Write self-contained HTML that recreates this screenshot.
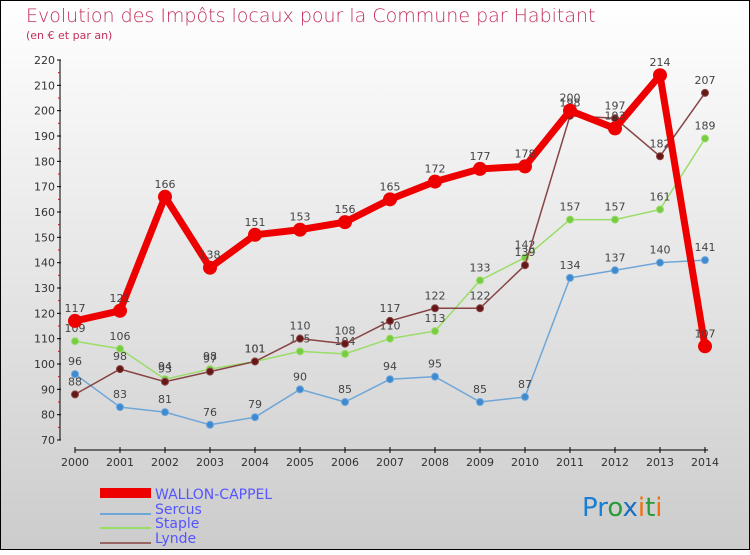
<!DOCTYPE html>
<html><head><meta charset="utf-8"><style>
body{margin:0;}
svg text{font-family:"DejaVu Sans","Liberation Sans",sans-serif;}
</style></head><body>
<svg id="c" width="750" height="550" xmlns="http://www.w3.org/2000/svg">
<defs><linearGradient id="bg" x1="0" y1="0" x2="0" y2="1"><stop offset="0" stop-color="#ffffff"/><stop offset="1" stop-color="#cccccc"/></linearGradient></defs>
<rect x="0.5" y="0.5" width="749" height="549" fill="url(#bg)" stroke="#000"/>
<text x="26" y="22" font-size="19" fill="#c0305a" style="font-weight:200">Evolution des Impôts locaux pour la Commune par Habitant</text>
<text x="26" y="39" font-size="11" fill="#c0305a">(en € et par an)</text>
<g id="axes"></g><g id="series"></g>
<g>
<rect x="100" y="488" width="51" height="10" fill="#e00"/>
<text x="155" y="499" font-size="14" fill="#5555ff">WALLON-CAPPEL</text>
<line x1="100" y1="514" x2="151" y2="514" stroke="#6fa6d8" stroke-width="2"/>
<text x="155" y="514" font-size="14" fill="#5555ff">Sercus</text>
<line x1="100" y1="528" x2="151" y2="528" stroke="#99dd66" stroke-width="2"/>
<text x="155" y="528" font-size="14" fill="#5555ff">Staple</text>
<line x1="100" y1="543" x2="151" y2="543" stroke="#996666" stroke-width="2"/>
<text x="155" y="543" font-size="14" fill="#5555ff">Lynde</text>
</g>
<text x="582" y="516" font-size="26"><tspan fill="#1a7fd0">Pr</tspan><tspan fill="#2a9a3a">o</tspan><tspan fill="#1a6fc0">x</tspan><tspan fill="#f07010">i</tspan><tspan fill="#2a9a3a">t</tspan><tspan fill="#f07010">i</tspan></text>
</svg>
<script>
const years=[2000,2001,2002,2003,2004,2005,2006,2007,2008,2009,2010,2011,2012,2013,2014];
const yTicks=[70,80,90,100,110,120,130,140,150,160,170,180,190,200,210,220];
const wallon=[117,121,166,138,151,153,156,165,172,177,178,200,193,214,107];
const sercus=[96,83,81,76,79,90,85,94,95,85,87,134,137,140,141];
const staple=[109,106,94,98,101,105,104,110,113,133,142,157,157,161,189];
const lynde=[88,98,93,97,101,110,108,117,122,122,139,198,197,182,207];
const NS="http://www.w3.org/2000/svg";
function X(i){return 75+i*45;}
function Y(v){return 440-(v-70)*380/150;}
function mk(t,a,p){const e=document.createElementNS(NS,t);for(const k in a)e.setAttribute(k,a[k]);p.appendChild(e);return e;}
const ax=document.getElementById('axes');
let yl=mk('line',{x1:60,y1:Y(220),x2:60,y2:Y(70),stroke:'#000','stroke-width':1},ax);


yTicks.forEach(v=>{
 mk('line',{x1:57,y1:Y(v),x2:61,y2:Y(v),stroke:'#000'},ax);
 if(v<220)mk('line',{x1:58,y1:Y(v+5),x2:60,y2:Y(v+5),stroke:'#e00'},ax);
 const t=mk('text',{x:55,y:Y(v)+4,'font-size':11,fill:'#333','text-anchor':'end'},ax);t.textContent=v;
 
 
});
let xl=mk('line',{x1:75,y1:450,x2:708,y2:450,stroke:'#000'},ax);


years.forEach((y,i)=>{
 mk('line',{x1:X(i),y1:447,x2:X(i),y2:453,stroke:'#000'},ax);
 const t=mk('text',{x:X(i),y:466,'font-size':11,fill:'#333','text-anchor':'middle'},ax);t.textContent=y;
 
 
});
const sg=document.getElementById('series');
function draw(d,name,col,w,r,dot){
 const g=mk('g',{},sg);
 
 
 mk('polyline',{points:d.map((v,i)=>X(i)+','+Y(v)).join(' '),fill:'none',stroke:col,'stroke-width':w,'stroke-linejoin':'round'},g);
 d.forEach((v,i)=>{
  const c=mk('circle',{cx:X(i),cy:Y(v),r:r,fill:dot,stroke:col,'stroke-width':1},g);
  
  
  const t=mk('text',{x:X(i),y:Y(v)-9,'font-size':11,fill:'#444','text-anchor':'middle'},g);t.textContent=v;
  
  
 });
}
draw(sercus,'sercus','#6fa6d8',1.5,3.5,'#3d8ad0');
draw(staple,'staple','#99dd66',1.5,3.5,'#77cc44');
draw(lynde,'lynde','#884444',1.5,3.5,'#661818');
draw(wallon,'wallon-cappel','#ee0000',7,6.5,'#ee0000');
</script>
</body></html>
